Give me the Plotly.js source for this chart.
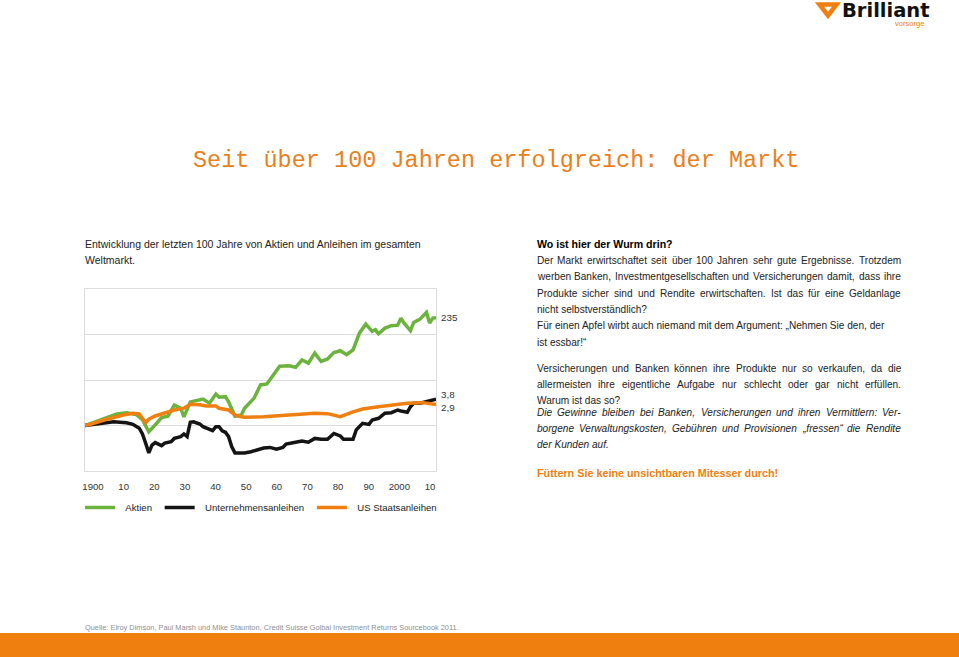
<!DOCTYPE html>
<html>
<head>
<meta charset="utf-8">
<script src="https://cdn.plot.ly/plotly-3.0.1.min.js"></script>
<style>
html,body{margin:0;padding:0;background:#fff;}
#chart{width:959px;height:657px;}
</style>
</head>
<body>
<div id="chart"></div>
<script>
// ---- data (growth of 1 unit since 1900, log scale) ----
const yearsAktien = [1900,1903,1906,1910,1913,1916,1918,1920,1922,1924,1926,1928,1930,1931,1933,1935,1937,1939,1941,1942,1944,1945,1947,1949,1950,1953,1955,1957,1960,1961,1964,1966,1968,1970,1972,1974,1976,1978,1980,1982,1984,1986,1988,1990,1991,1992,1994,1996,1998,1999,2000,2002,2003,2005,2007,2008,2009,2010];
const aktien = [1.0,1.2,1.45,1.8,1.9,1.75,1.35,0.73,1.03,1.5,1.6,2.8,2.4,1.55,3.3,3.6,3.8,3.1,4.9,4.2,4.3,3.3,1.6,1.7,2.4,4.0,7.8,8.2,16.7,20,20.5,19,27.5,23.5,39,25.5,29,40,44,36,46,107,169,117,127,104,138,156,160,229,178,122,184,218,305,178,230,235];

const yearsUnternehmen = [1900,1908,1909,1913,1915,1917,1918,1919,1920,1921,1922,1924,1925,1927,1928,1930,1931,1932,1933,1934,1936,1937,1939,1940,1941,1942,1943,1944,1945,1946,1947,1950,1952,1954,1956,1958,1960,1962,1963,1966,1968,1970,1972,1974,1976,1978,1980,1981,1984,1985,1987,1989,1990,1992,1993,1994,1996,1998,1999,2001,2002,2003,2005,2007,2009,2010];
const unternehmen = [1.0,1.16,1.21,1.15,1.06,0.87,0.65,0.41,0.25,0.37,0.42,0.36,0.41,0.44,0.52,0.57,0.65,0.57,1.18,1.21,1.08,0.94,0.84,0.77,0.94,0.94,0.76,0.71,0.57,0.34,0.25,0.25,0.265,0.29,0.32,0.33,0.30,0.33,0.39,0.43,0.455,0.43,0.52,0.50,0.50,0.67,0.59,0.50,0.50,0.80,1.12,1.06,1.32,1.44,1.62,1.86,1.91,2.19,2.09,1.95,2.59,3.08,3.08,3.34,3.70,3.8];

const yearsStaats = [1900,1902,1906,1909,1912,1915,1917,1919,1920,1922,1925,1928,1931,1933,1936,1938,1941,1942,1945,1947,1948,1950,1956,1963,1972,1976,1980,1984,1987,1992,1997,2001,2006,2010];
const staats = [1.0,1.08,1.32,1.52,1.70,1.86,1.8,1.15,1.38,1.62,1.86,2.19,2.4,2.93,2.85,2.69,2.69,2.39,2.19,1.70,1.62,1.52,1.56,1.70,1.86,1.82,1.56,2.0,2.31,2.59,2.83,3.08,3.18,2.9];

const seriesNames = ['Aktien','Unternehmensanleihen','US Staatsanleihen'];
const endLabels = ['235','3,8','2,9'];
const tickYears = [1900,1910,1920,1930,1940,1950,1960,1970,1980,1990,2000,2010];
const tickLabels = ['1900','10','20','30','40','50','60','70','80','90','2000','10'];

// ---- geometry helpers (pixel -> paper of plot area) ----
const L=85, R=436, T=289, B=471;
const px = x => (x-L)/(R-L);
const py = y => (B-y)/(B-T);

const SANS = '"Liberation Sans", Arial, sans-serif';
const TXT = '#222';
const GREEN = '#6cb33e', BLACK = '#141414', ORANGE = '#ee7f10';
const NB = '\u00A0';
const BODY = 10.1;

const traces = [
  {x: yearsAktien, y: aktien, name: NB+NB+seriesNames[0]+NB, type:'scatter', mode:'lines',
   line:{color:GREEN, width:3.5}, hoverinfo:'skip'},
  {x: yearsUnternehmen, y: unternehmen, name: NB+NB+seriesNames[1]+NB, type:'scatter', mode:'lines',
   line:{color:BLACK, width:3.5}, hoverinfo:'skip'},
  {x: yearsStaats, y: staats, name: NB+NB+seriesNames[2]+NB, type:'scatter', mode:'lines',
   line:{color:ORANGE, width:3.5}, hoverinfo:'skip'},
  // empty trace so the year-label axis is drawn
  {x: [], y: [], xaxis:'x2', yaxis:'y', type:'scatter', mode:'lines', showlegend:false, hoverinfo:'skip'}
];

function note(text, x, y, opts){
  return Object.assign({text:text, xref:'paper', yref:'paper', x:px(x-2.5), y:py(y),
    xanchor:'left', yanchor:'middle', showarrow:false,
    font:{family:SANS, size:BODY, color:TXT}}, opts||{});
}

// justified text (word spacing spread over the column width)
const ctx = document.createElement('canvas').getContext('2d');
const COL_L = 537, COL_R = 901.5;
function addLine(arr, line, y, italic, justify){
  const wrap = t => italic ? '<i>'+t+'</i>' : t;
  if(!justify){ arr.push(note(wrap(line), COL_L, y)); return; }
  ctx.font = (italic?'italic ':'') + BODY + 'px "Liberation Sans"';
  const words = line.split(/\s+/).filter(w=>w.length);
  const widths = words.map(w=>ctx.measureText(w).width);
  const total = widths.reduce((a,b)=>a+b,0);
  const space = ctx.measureText(' ').width;
  const gap = Math.max(space, (COL_R-COL_L-total)/(words.length-1));
  let x = COL_L;
  words.forEach((w,i)=>{ arr.push(note(wrap(w), x, y)); x += widths[i]+gap; });
}

const rightLines1 = [
  'Der Markt erwirtschaftet seit über 100 Jahren sehr gute Ergebnisse. Trotzdem',
  'werben Banken, Investmentgesellschaften und Versicherungen damit, dass ihre',
  'Produkte sicher sind und Rendite erwirtschaften. Ist das für eine Geldanlage',
  'nicht selbstverständlich?',
  'Für einen Apfel wirbt auch niemand mit dem Argument: „Nehmen Sie den, der',
  'ist essbar!“'
];
const just1 = [true,true,true,false,false,false];
const rightLines2 = [
  'Versicherungen und Banken können ihre Produkte nur so verkaufen, da die',
  'allermeisten ihre eigentliche Aufgabe nur schlecht oder gar nicht erfüllen.',
  'Warum ist das so?'
];
const just2 = [true,true,false];
const rightLines3 = [
  'Die Gewinne bleiben bei Banken, Versicherungen und ihren Vermittlern: Ver-',
  'borgene Verwaltungskosten, Gebühren und Provisionen  „fressen“ die Rendite',
  'der Kunden auf.'
];
const just3 = [true,true,false];

const ann = [];
// title
ann.push(note('Seit über 100 Jahren erfolgreich: der Markt', 498.5, 160,
  {xanchor:'center', font:{family:'"Liberation Mono", "Courier New", monospace', size:23.5, color:'#e8801c'}}));
// left intro
ann.push(note('Entwicklung der letzten 100 Jahre von Aktien und Anleihen im gesamten', 85, 244, {font:{family:SANS, size:10.5, color:TXT}}));
ann.push(note('Weltmarkt.', 85, 260, {font:{family:SANS, size:10.5, color:TXT}}));
// right block
ann.push(note('<b>Wo ist hier der Wurm drin?</b>', 537, 244, {font:{family:SANS, size:10.6, color:'#000'}}));
rightLines1.forEach((t,i)=>addLine(ann, t, 260.5 + i*16.3, false, just1[i]));
rightLines2.forEach((t,i)=>addLine(ann, t, 368 + i*16.2, false, just2[i]));
rightLines3.forEach((t,i)=>addLine(ann, t, 412.5 + i*16.2, true, just3[i]));
ann.push(note('<b>Füttern Sie keine unsichtbaren Mitesser durch!</b>', 537, 473,
  {font:{family:SANS, size:10.8, color:'#ee7f10'}}));
// end value labels
ann.push(note(endLabels[0], 442, 317, {font:{family:SANS, size:9.8, color:'#333'}}));
ann.push(note(endLabels[1], 442, 394, {font:{family:SANS, size:9.8, color:'#333'}}));
ann.push(note(endLabels[2], 442, 407.5, {font:{family:SANS, size:9.8, color:'#333'}}));
// source
ann.push(note('Quelle: Elroy Dimson, Paul Marsh und Mike Staunton, Credit Suisse Golbal Investment Returns Sourcebook 2011.', 85, 627,
  {font:{family:SANS, size:7.4, color:'#8f8f8f'}}));
// logo text
ann.push(note('<b>Brilliant</b>', 843, 10, {borderpad:0, font:{family:'"DejaVu Sans", sans-serif', size:19.5, color:'#111'}}));
ann.push(note('vorsorge', 928, 23, {xanchor:'right', borderpad:0, font:{family:SANS, size:7.6, color:'#ee7f10'}}));

const shapes = [
  // bottom orange bar
  {type:'rect', xref:'paper', yref:'paper', x0:px(0), x1:px(959), y0:py(633), y1:py(657),
   fillcolor:'#ef8010', line:{width:0}, layer:'below'},
  // logo mark
  {type:'path', xref:'paper', yref:'paper',
   path:'M '+px(819.5)+','+py(4.5)+' L '+px(836.5)+','+py(4.5)+' L '+px(828)+','+py(15.5)+' Z',
   fillcolor:'#ffffff', line:{color:'#ef8010', width:4.5}}
];

const layout = {
  width:959, height:657,
  margin:{l:L, r:959-R, t:T, b:657-B, pad:0},
  paper_bgcolor:'#ffffff', plot_bgcolor:'#ffffff',
  showlegend:true,
  legend:{orientation:'h', x:px(80), y:py(493), xanchor:'left', yanchor:'top',
    font:{family:SANS, size:9.6, color:TXT}, bgcolor:'rgba(0,0,0,0)', itemclick:false, tracegroupgap:0},
  xaxis:{range:[1900,2010], showticklabels:false, showgrid:false, zeroline:false,
    showline:true, mirror:true, linecolor:'#dcdcdc', linewidth:1, fixedrange:true},
  xaxis2:{overlaying:'x', anchor:'y', side:'bottom',
    range:[1900-8/3.0636, 2010+6/3.0636], tickmode:'array', tickvals:tickYears, ticktext:tickLabels,
    ticks:'outside', ticklen:6, tickcolor:'rgba(0,0,0,0)', showgrid:false, zeroline:false, showline:false,
    tickfont:{family:SANS, size:9.6, color:'#333'}, fixedrange:true},
  yaxis:{type:'log', range:[-1,3], dtick:1, showticklabels:false, ticks:'',
    showgrid:true, gridcolor:'#dcdcdc', gridwidth:1, zeroline:false,
    showline:true, mirror:true, linecolor:'#dcdcdc', linewidth:1, fixedrange:true},
  annotations:ann,
  shapes:shapes
};

Plotly.newPlot('chart', traces, layout, {displayModeBar:false, staticPlot:true});
</script>
</body>
</html>
